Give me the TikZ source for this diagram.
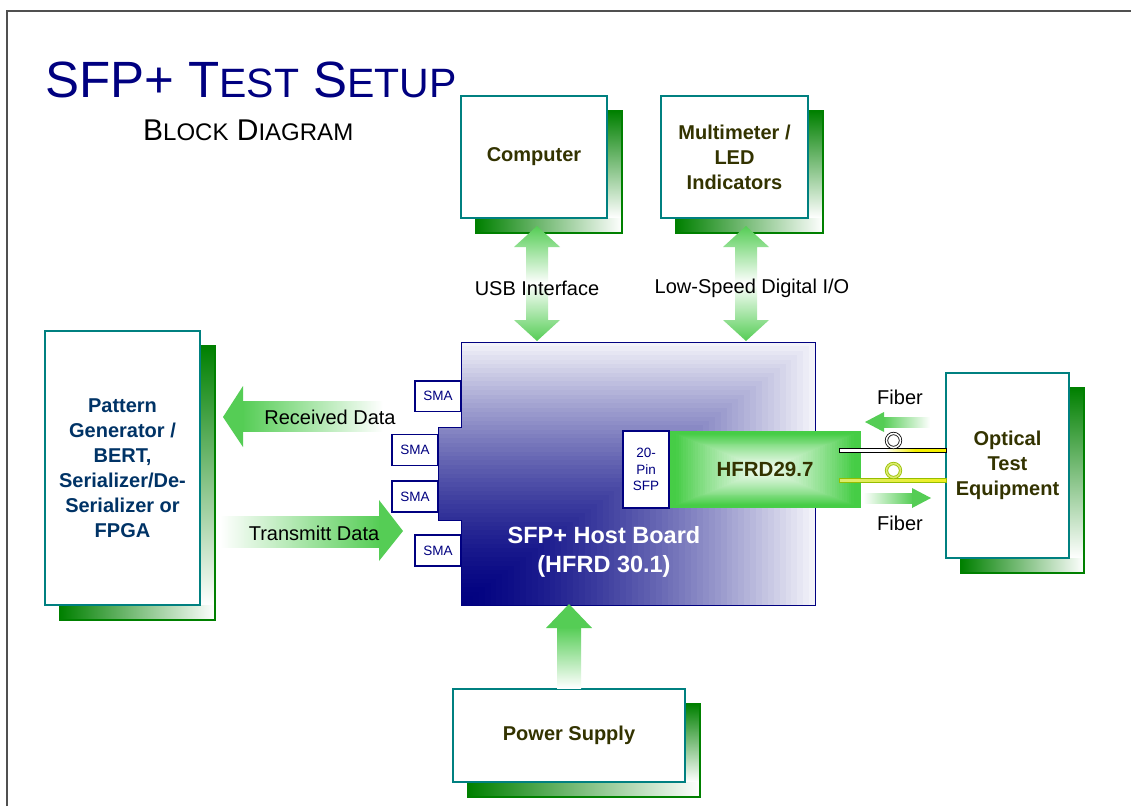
\documentclass[tikz,border=0pt]{standalone}
\usepackage{fontspec}
\setmainfont{Liberation Sans}
\definecolor{navy}{RGB}{0,0,128}
\definecolor{tealc}{RGB}{0,128,128}
\definecolor{shgreen}{RGB}{0,128,0}
\definecolor{olivetxt}{RGB}{51,51,0}
\definecolor{bluetxt}{RGB}{0,51,102}
\definecolor{arrgreen}{RGB}{85,205,85}
\definecolor{modgreen}{RGB}{70,205,70}
\definecolor{fibyellow}{RGB}{245,240,0}
\definecolor{fibgreenA}{RGB}{220,235,110}
\definecolor{fibgreenB}{RGB}{240,240,30}
\definecolor{fibedge}{RGB}{150,190,0}
\definecolor{framegray}{RGB}{80,80,80}
\newcommand\boxshadow[4]{%
  \shade[top color=shgreen, bottom color=white] (#3,{#2+15}) rectangle ({#3+15},#4);
  \shade[left color=shgreen, right color=white] ({#1+15},#4) rectangle ({#3+15},{#4+15});
  \draw[shgreen, line width=1.5pt] ({#1+15},{#2+15}) rectangle ({#3+15},{#4+15});
}
\tikzset{
  frontbox/.style={draw=tealc, line width=1.8pt, fill=white, inner sep=0pt, align=center,
    font=\bfseries\fontsize{20}{25}\selectfont, text=olivetxt},
  smabox/.style={draw=navy, line width=1.5pt, fill=white, inner sep=0pt, align=center,
    font=\fontsize{13.5}{16.5}\selectfont, text=navy},
  lbl/.style={inner sep=0pt, font=\fontsize{20}{24}\selectfont, text=black},
}
\begin{document}
\begin{tikzpicture}[x=1pt,y=-1pt]
\useasboundingbox (0,0) rectangle (1131,806);
\fill[white] (0,0) rectangle (1131,806);
\draw[framegray, line width=2pt] (7,806) -- (7,11) -- (1131,11);

% title
\node[anchor=base west, inner sep=0pt, text=navy] (title) at (45,97)
  {\fontsize{51}{51}\selectfont SFP+ T{\fontsize{41}{41}\selectfont EST} S{\fontsize{41}{41}\selectfont ETUP}};
\node[anchor=base west, inner sep=0pt, text=black] (subtitle) at (143,140)
  {\fontsize{30}{30}\selectfont B{\fontsize{24}{24}\selectfont LOCK} D{\fontsize{24}{24}\selectfont IAGRAM}};

% boxes with shadows
\boxshadow{461}{96}{607}{218}
\node[frontbox, minimum width=146pt, minimum height=122pt] (computer) at (534,157) {Computer};
\boxshadow{661}{96}{808}{218}
\node[frontbox, minimum width=147pt, minimum height=122pt] (multi) at (734.5,157) {Multimeter /\\LED\\Indicators};
\boxshadow{45}{331}{200}{605}
\node[frontbox, minimum width=155pt, minimum height=274pt, text=bluetxt] (pattern) at (122.5,468)
  {Pattern\\Generator /\\BERT,\\Serializer/De-\\Serializer or\\FPGA};
\boxshadow{946}{373}{1069}{558}
\node[frontbox, minimum width=123pt, minimum height=185pt] (optical) at (1007.5,465.5) {Optical\\Test\\Equipment};
\boxshadow{453}{689}{685}{782}
\node[frontbox, minimum width=232pt, minimum height=93pt] (power) at (569,735.5) {Power Supply};

% host board with corner gradient
\begin{scope}
  \clip (461,342) -- (815,342) -- (815,605) -- (461,605) -- (461,520) -- (438,520) -- (438,427) -- (461,427) -- cycle;
  \foreach \i in {60,59,...,1} {
    \pgfmathsetmacro\t{\i/60}
    \pgfmathsetmacro\p{100-95*\t^1.5}
    \fill[navy!\p!white] (437,606) rectangle ({461+354*\t},{605-263*\t});
  }
\end{scope}
\draw[navy, line width=1pt] (461,342) -- (815,342) -- (815,605) -- (461,605) -- (461,520) -- (438,520) -- (438,427) -- (461,427) -- cycle;
\node[inner sep=0pt, align=center, text=white, font=\bfseries\fontsize{23.5}{29}\selectfont] (board) at (604,552) {SFP+ Host Board\\(HFRD 30.1)};

% SMA connectors
\node[smabox, minimum width=46pt, minimum height=30.5pt] (sma1) at (438,396) {SMA};
\node[smabox, minimum width=46pt, minimum height=31pt] (sma2) at (415,450) {SMA};
\node[smabox, minimum width=46pt, minimum height=31pt] (sma3) at (415,496.5) {SMA};
\node[smabox, minimum width=46pt, minimum height=31pt] (sma4) at (438,550.5) {SMA};

% HFRD29.7 module
\foreach \i in {40,39,...,1} {
  \pgfmathsetmacro\t{\i/40}
  \pgfmathsetmacro\p{min(100,8+100*\t^1.3)}
  \fill[modgreen!\p!white] ({765-96*\t},{469.5-38.5*\t}) rectangle ({765+96*\t},{469.5+38.5*\t});
}
\node[inner sep=0pt, text=olivetxt, font=\bfseries\fontsize{20.5}{24}\selectfont] (hfrd) at (765,469) {HFRD29.7};
\node[smabox, minimum width=46pt, minimum height=77pt] (sfp) at (646,469.5) {20-\\Pin\\SFP};

% fibers
\fill[white] (839,448) rectangle (885,452);
\shade[left color=white, right color=fibyellow] (885,448) rectangle (915,452);
\fill[fibyellow] (915,448) rectangle (946,452);
\draw[black, line width=0.8pt] (839,448) rectangle (946,452);
\draw[black, line width=0.8pt, double=white, double distance=1.6pt] (893.5,440.5) circle (7);
\shade[left color=fibgreenA, right color=fibgreenB] (839,478) rectangle (946,482);
\draw[fibedge, line width=0.8pt] (839,478) rectangle (946,482);
\draw[fibedge, line width=0.8pt, double=fibgreenA, double distance=1.6pt] (893.5,470.5) circle (7);

% USB and low speed double arrows
\foreach \cx in {537,746} {
  \shade[top color=arrgreen, bottom color=arrgreen, middle color=white]
    (\cx,226) -- ({\cx+23},247) -- ({\cx+11},247) -- ({\cx+11},320) -- ({\cx+23},320) -- (\cx,341)
    -- ({\cx-23},320) -- ({\cx-11},320) -- ({\cx-11},247) -- ({\cx-23},247) -- cycle;
}
\node[lbl] (usb) at (537,288) {USB Interface};
\node[lbl] (lowspeed) at (752,288) {Low-Speed Digital I/O};

% Received data arrow
\shade[left color=arrgreen, right color=white] (242,401) rectangle (383,431);
\fill[arrgreen] (223,417) -- (243,386) -- (243,447) -- cycle;
\node[lbl] (rx) at (330,417) {Received Data};
% Transmitt data arrow
\shade[left color=white, right color=arrgreen] (220,516) rectangle (380,547);
\fill[arrgreen] (403,531) -- (379,500) -- (379,561) -- cycle;
\node[lbl] (tx) at (314,533) {Transmitt Data};
% power arrow
\shade[top color=arrgreen, bottom color=white] (557,627) rectangle (581,688);
\fill[arrgreen] (569,604) -- (592,628) -- (546,628) -- cycle;
% fiber arrows
\shade[left color=arrgreen, right color=white] (883,417) rectangle (930,427);
\fill[arrgreen] (865,422) -- (884,412) -- (884,432) -- cycle;
\node[lbl] (fib1) at (900,397) {Fiber};
\shade[left color=white, right color=arrgreen] (863,493.5) rectangle (913,503);
\fill[arrgreen] (931,498) -- (912,488) -- (912,508) -- cycle;
\node[lbl] (fib2) at (900,523) {Fiber};
\end{tikzpicture}
\end{document}
